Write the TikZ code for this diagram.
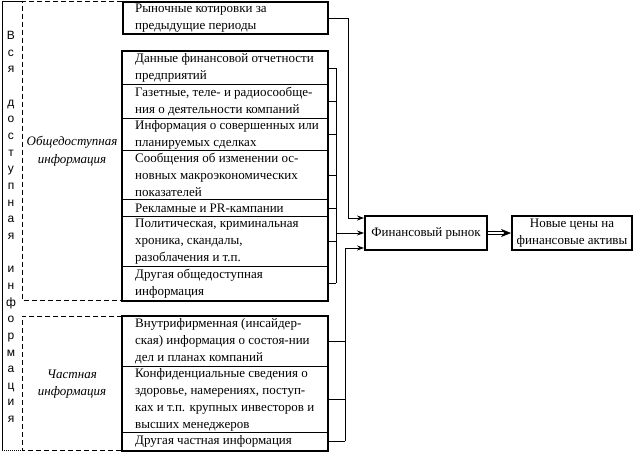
\documentclass[tikz,border=0pt]{standalone}
\usepackage{fontspec}
\usetikzlibrary{arrows.meta}
\newfontfamily\tnr{Liberation Serif}
\newfontfamily\arl{Liberation Sans}
\newcommand\bxfont{\tnr\fontsize{13}{17}\selectfont}
\begin{document}
\begin{tikzpicture}[x=1pt,y=-1pt,
  thickbox/.style={draw, line width=2pt, inner sep=0pt},
  sub/.style={draw, line width=0.8pt, inner sep=0pt, minimum width=205pt, anchor=north west},
  btext/.style={anchor=west, inner sep=0pt, align=left, font=\bxfont},
  conn/.style={line width=0.8pt},
  arr/.style={conn, -{Stealth[length=7pt,width=5pt]}},
  dframe/.style={line width=0.8pt, dash pattern=on 5pt off 3pt},
  lab/.style={align=center, inner sep=0pt}
]
\useasboundingbox (0,0) rectangle (636,456);

% outer frame
\draw[line width=0.8pt] (22,1.5) -- (2,1.5) -- (2,450);
\draw[line width=0.8pt, dash pattern=on 1pt off 1pt] (2,450) -- (22,450);
% dashed frames
\draw[dframe] (122,1.5) -- (22,1.5) -- (22,300) -- (122,300);
\draw[dframe] (122,316) -- (22,316) -- (22,450) -- (122,450);

% vertical text
\node[lab, font={\arl\fontsize{12}{16.65}\selectfont}] (all) at (11,227)
  {В\\с\\я\\\mbox{}\\д\\о\\с\\т\\у\\п\\н\\а\\я\\\mbox{}\\и\\н\\ф\\о\\р\\м\\а\\ц\\и\\я};

% italic labels
\node[lab, font={\tnr\itshape\fontsize{13}{18}\selectfont}] (publab) at (72,151) {Общедоступная\\информация};
\node[lab, font={\tnr\itshape\fontsize{13}{16.5}\selectfont}] (privlab) at (72,384) {Частная\\информация};

% top box
\node[sub, line width=2pt, minimum height=32pt] (top) at (122,1) {};
\node[btext] (topt) at ([xshift=13pt]top.west) {Рыночные котировки за\\предыдущие периоды};

% public boxes
\node[sub, minimum height=33pt] (p1) at (122,51) {};
\node[sub, minimum height=34pt] (p2) at (122,84) {};
\node[sub, minimum height=32pt] (p3) at (122,118) {};
\node[sub, minimum height=49pt] (p4) at (122,150) {};
\node[sub, minimum height=17pt] (p5) at (122,199) {};
\node[sub, minimum height=50pt] (p6) at (122,216) {};
\node[sub, minimum height=34pt] (p7) at (122,266) {};
\draw[line width=2pt] (p1.north west) rectangle (p7.south east);
\node[btext] (p1t) at ([xshift=13pt]p1.west) {Данные финансовой отчетности\\предприятий};
\node[btext] (p2t) at ([xshift=13pt]p2.west) {Газетные, теле- и радиосообще-\\ния о деятельности компаний};
\node[btext] (p3t) at ([xshift=13pt]p3.west) {Информация о совершенных или\\планируемых сделках};
\node[btext] (p4t) at ([xshift=13pt]p4.west) {Сообщения об изменении ос-\\новных макроэкономических\\показателей};
\node[btext] (p5t) at ([xshift=13pt]p5.west) {Рекламные и PR-кампании};
\node[btext] (p6t) at ([xshift=13pt]p6.west) {Политическая, криминальная\\хроника, скандалы,\\разоблачения и т.п.};
\node[btext] (p7t) at ([xshift=13pt]p7.west) {Другая общедоступная\\информация};

% private boxes
\node[sub, minimum height=50pt] (q1) at (122,316) {};
\node[sub, minimum height=66pt] (q2) at (122,366) {};
\node[sub, minimum height=18pt] (q3) at (122,432) {};
\draw[line width=2pt] (q1.north west) rectangle (q3.south east);
\node[btext] (q1t) at ([xshift=13pt]q1.west) {Внутрифирменная (инсайдер-\\ская) информация о состоя-нии\\дел и планах компаний};
\node[btext] (q2t) at ([xshift=13pt]q2.west) {Конфиденциальные сведения о\\здоровье, намерениях, поступ-\\ках и т.п. крупных инвесторов и\\высших менеджеров};
\node[btext] (q3t) at ([xshift=13pt]q3.west) {Другая частная информация};

% market boxes
\node[thickbox, minimum width=122pt, minimum height=34pt, font=\bxfont] (fm) at (426,233) {Финансовый рынок};
\node[thickbox, minimum width=120pt, minimum height=34pt, align=center, font=\bxfont] (np) at (572,233) {Новые цены на\\финансовые активы};

% connectors
\coordinate (ja) at (348,218);
\coordinate (pb) at (336,233);
\coordinate (qb) at (345,248);
\draw[arr] (top.east) -| (ja) -- (ja -| fm.west);
\foreach \b in {p1,p2,p3,p4,p5,p6,p7} \draw[conn] (\b.east) -- (\b.east -| pb);
\draw[conn] (p1.east -| pb) -- (p7.east -| pb);
\draw[arr] (pb) -- (fm.west);
\foreach \b in {q1,q2,q3} \draw[conn] (\b.east) -- (\b.east -| qb);
\draw[arr] (q3.east -| qb) -- (qb) -- (qb -| fm.west);
\draw[line width=0.6pt, double, double distance=2pt, -{Stealth[length=10pt,width=8pt]}] (fm.east) -- (np.west);
\end{tikzpicture}
\end{document}
